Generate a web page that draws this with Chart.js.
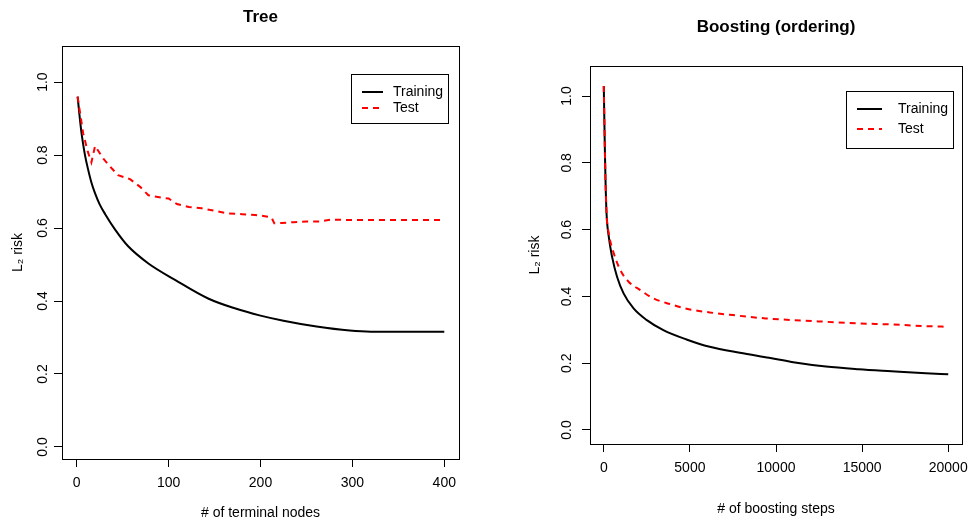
<!DOCTYPE html>
<html>
<head>
<meta charset="utf-8">
<script src="https://cdn.jsdelivr.net/npm/chart.js@4.4.0/dist/chart.umd.min.js"></script>
<style>
  body { margin: 0; background: #fff; }
  #wrap { position: relative; width: 973px; height: 522px; }
  canvas { position: absolute; top: 0; }
</style>
</head>
<body>
<div id="wrap">
  <canvas id="treeChart" width="486" height="522" style="left:0px"></canvas>
  <canvas id="boostChart" width="487" height="522" style="left:486px"></canvas>
</div>
<script>
// tree panel
const treeTrainNodes = [1, 3, 5, 7, 9, 12, 16, 20, 25, 31, 42, 56, 78, 107, 143, 172, 200, 225, 261, 297, 320, 400];
const treeTrainRisk = [0.96, 0.91, 0.865, 0.83, 0.80, 0.765, 0.725, 0.695, 0.665, 0.638, 0.595, 0.55, 0.503, 0.458, 0.407, 0.38, 0.36, 0.346, 0.33, 0.319, 0.316, 0.316];
const treeTestNodes = [1, 7, 12, 16, 20, 29, 38, 45, 58, 69, 78, 93, 100, 109, 122, 136, 151, 165, 180, 194, 203, 212, 215, 223, 236, 250, 265, 276, 297, 400];
const treeTestRisk = [0.96, 0.86, 0.81, 0.78, 0.825, 0.79, 0.764, 0.745, 0.734, 0.713, 0.69, 0.683, 0.681, 0.666, 0.658, 0.654, 0.647, 0.64, 0.638, 0.636, 0.633, 0.629, 0.613, 0.614, 0.616, 0.618, 0.618, 0.623, 0.622, 0.622];
const treeNodeTicks = [0, 100, 200, 300, 400];
const treeNodeLabels = ['0', '100', '200', '300', '400'];

// boosting panel
const boostTrainSteps = [0, 60, 100, 160, 290, 480, 770, 1150, 1730, 2500, 3460, 4800, 6150, 7900, 9600, 11000, 12900, 14800, 16700, 18700, 20000];
const boostTrainRisk = [1.03, 0.848, 0.749, 0.649, 0.579, 0.519, 0.459, 0.409, 0.364, 0.329, 0.299, 0.271, 0.249, 0.231, 0.216, 0.203, 0.19, 0.182, 0.176, 0.17, 0.167];
const boostTestSteps = [0, 60, 100, 160, 290, 580, 960, 1440, 2120, 2880, 3850, 5000, 6150, 7500, 9400, 11000, 12900, 14800, 16700, 18700, 20000];
const boostTestRisk = [1.03, 0.848, 0.749, 0.649, 0.589, 0.529, 0.479, 0.444, 0.419, 0.394, 0.377, 0.361, 0.352, 0.344, 0.334, 0.329, 0.324, 0.319, 0.316, 0.311, 0.309];
const boostStepTicks = [0, 5000, 10000, 15000, 20000];
const boostStepLabels = ['0', '5000', '10000', '15000', '20000'];

const riskTicks = [0, 0.2, 0.4, 0.6, 0.8, 1.0];
const riskLabels = ['0.0', '0.2', '0.4', '0.6', '0.8', '1.0'];
const seriesNames = ['Training', 'Test'];

Chart.defaults.font.family = "'Liberation Sans', Arial, sans-serif";
Chart.defaults.color = '#000';

function pairs(xs, ys) {
    return xs.map((x, i) => ({ x: x, y: ys[i] }));
}

// R style box round the plot region plus the little legend box
const framePlugin = {
    id: 'frame',
    afterDraw(chart, args, opts) {
        const ctx = chart.ctx;
        const a = chart.chartArea;
        ctx.save();
        ctx.strokeStyle = '#000';
        ctx.lineWidth = 1;
        ctx.strokeRect(Math.round(a.left) + 0.5, Math.round(a.top) + 0.5,
            Math.round(a.right - a.left), Math.round(a.bottom - a.top));

        const lg = opts.legend;
        const bx = Math.round(a.right - lg.right - lg.width);
        const by = Math.round(a.top + lg.top);
        ctx.fillStyle = '#fff';
        ctx.fillRect(bx, by, lg.width, lg.height);
        ctx.strokeRect(bx + 0.5, by + 0.5, lg.width, lg.height);

        ctx.font = "14px 'Liberation Sans', Arial, sans-serif";
        ctx.textBaseline = 'middle';
        ctx.textAlign = 'left';
        chart.data.datasets.forEach((ds, i) => {
            const y = by + lg.rows[i];
            ctx.beginPath();
            ctx.strokeStyle = ds.borderColor;
            ctx.lineWidth = ds.borderWidth;
            ctx.setLineDash(ds.borderDash || []);
            ctx.moveTo(bx + lg.lineFrom, y);
            ctx.lineTo(bx + lg.lineTo, y);
            ctx.stroke();
            ctx.setLineDash([]);
            ctx.fillStyle = '#000';
            ctx.fillText(ds.label, bx + lg.textX, y);
        });
        ctx.restore();
    }
};

function drawPanel(id, p) {
    const ctx = document.getElementById(id).getContext('2d');
    return new Chart(ctx, {
        type: 'line',
        data: {
            datasets: [{
                label: seriesNames[0],
                data: pairs(p.trainX, p.trainY),
                borderColor: '#000000',
                borderWidth: 2,
                pointRadius: 0,
                cubicInterpolationMode: 'monotone',
                order: 2
            }, {
                label: seriesNames[1],
                data: pairs(p.testX, p.testY),
                borderColor: '#ff0000',
                borderWidth: 2,
                borderDash: [6, 5],
                pointRadius: 0,
                cubicInterpolationMode: p.testSmooth ? 'monotone' : 'default',
                tension: 0,
                order: 1
            }]
        },
        plugins: [framePlugin],
        options: {
            responsive: false,
            animation: false,
            events: [],
            layout: { padding: { left: 0, right: p.padRight, top: 0, bottom: 0 } },
            plugins: {
                legend: { display: false },
                tooltip: { enabled: false },
                title: {
                    display: true,
                    text: p.title,
                    fullSize: false,
                    font: { size: 17, weight: 'bold' },
                    padding: { top: p.titleTop, bottom: p.titleBottom }
                },
                frame: { legend: p.legend }
            },
            scales: {
                x: {
                    type: 'linear',
                    min: p.xMin,
                    max: p.xMax,
                    afterBuildTicks: s => { s.ticks = p.xTicks.map(v => ({ value: v })); },
                    afterFit: s => {
                        s.height = p.xAxisHeight;
                        s.paddingLeft = 0;
                        s.paddingRight = 0;
                    },
                    grid: { drawOnChartArea: false, drawTicks: true, tickLength: 8, color: '#000' },
                    border: { display: false },
                    ticks: {
                        padding: 8,
                        maxRotation: 0,
                        font: { size: 14 },
                        callback: (v, i) => p.xLabels[i]
                    },
                    title: { display: true, text: p.xTitle, font: { size: 14 }, padding: { top: 0, bottom: p.xTitlePad } }
                },
                y: {
                    type: 'linear',
                    min: p.yMin,
                    max: p.yMax,
                    afterBuildTicks: s => { s.ticks = riskTicks.map(v => ({ value: v })); },
                    afterFit: s => {
                        s.width = p.yAxisWidth;
                        s.paddingTop = 0;
                        s.paddingBottom = 0;
                    },
                    grid: { drawOnChartArea: false, drawTicks: true, tickLength: 8, color: '#000' },
                    border: { display: false },
                    ticks: {
                        padding: p.yTickPad,
                        minRotation: 90,
                        maxRotation: 90,
                        crossAlign: 'center',
                        font: { size: 14 },
                        callback: (v, i) => riskLabels[i]
                    },
                    title: { display: true, text: 'L\u2082 risk', font: { size: 14 }, padding: { top: p.yTitlePad, bottom: 0 } }
                }
            }
        }
    });
}

drawPanel('treeChart', {
    title: 'Tree',
    xTitle: '# of terminal nodes',
    trainX: treeTrainNodes, trainY: treeTrainRisk,
    testX: treeTestNodes, testY: treeTestRisk,
    testSmooth: false,
    xTicks: treeNodeTicks, xLabels: treeNodeLabels,
    xMin: -16, xMax: 416,
    yMin: -0.033, yMax: 1.099,
    padRight: 27,
    titleTop: 7, titleBottom: 18.6,
    yAxisWidth: 62, xAxisHeight: 63,
    yTickPad: 1, yTitlePad: 9.6, xTitlePad: 0.6,
    legend: { right: 11, top: 28, width: 97, height: 49, rows: [18, 34], lineFrom: 11, lineTo: 32, textX: 42 }
});

drawPanel('boostChart', {
    title: 'Boosting (ordering)',
    xTitle: '# of boosting steps',
    trainX: boostTrainSteps, trainY: boostTrainRisk,
    testX: boostTestSteps, testY: boostTestRisk,
    testSmooth: true,
    xTicks: boostStepTicks, xLabels: boostStepLabels,
    xMin: -800, xMax: 20800,
    yMin: -0.042, yMax: 1.09,
    padRight: 11,
    titleTop: 16.8, titleBottom: 28.8,
    yAxisWidth: 104, xAxisHeight: 78,
    yTickPad: 5, yTitlePad: 40.6, xTitlePad: 4.6,
    legend: { right: 9, top: 25, width: 107, height: 57, rows: [18, 38], lineFrom: 11, lineTo: 36, textX: 52 }
});
</script>
</body>
</html>
